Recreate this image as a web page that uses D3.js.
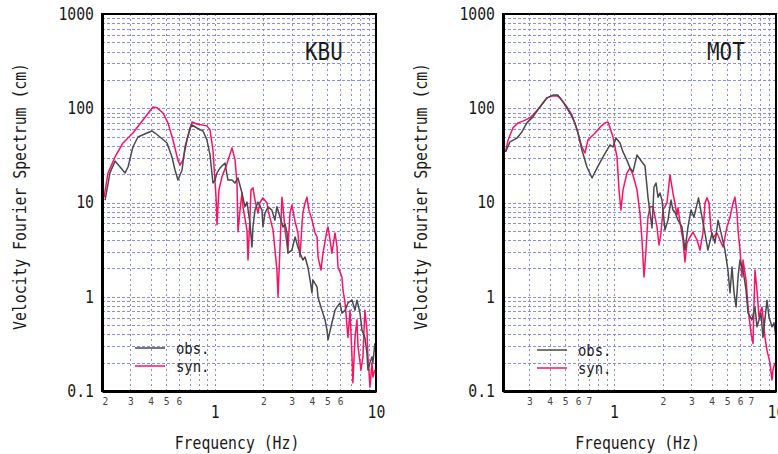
<!DOCTYPE html>
<html>
<head>
<meta charset="utf-8">
<script src="https://cdn.jsdelivr.net/npm/d3@7"></script>
<style>
  body { margin: 0; background: #fff; }
  text { font-family: "DejaVu Sans Mono", monospace; fill: #1a1a1a; }
</style>
</head>
<body>
<svg id="chart" width="778" height="454"></svg>
<script>
// velocity Fourier spectra: [frequency Hz, amplitude cm]
var kbuObs = [
  [0.209,10.6],[0.224,20.6],[0.241,27.5],[0.259,23.8],[0.278,20.6],[0.290,23.8],[0.311,38.8],[0.334,49.5],
  [0.380,54.6],[0.408,57.4],[0.426,54.6],[0.458,49.5],[0.506,42.8],[0.543,30.4],[0.567,22.1],[0.592,17.3],
  [0.627,22.1],[0.654,38.8],[0.703,61.7],[0.723,66.4],[0.776,61.7],[0.846,57.4],[0.895,46],[0.935,32],
  [0.975,16.1],[1.004,17.3],[1.033,20.6],[1.078,23.2],[1.158,26.2],[1.208,17.3],[1.280,17.3],[1.336,16.1],
  [1.394,18.2],[1.476,12.6],[1.541,9.0],[1.585,10.1],[1.654,6.05],[1.702,3.37],[1.726,5.5],[1.777,8.3],
  [1.854,10.1],[1.963,8.3],[1.991,5.5],[2.05,7.7],[2.14,9.0],[2.26,8.3],[2.36,6.5],[2.43,9.0],[2.54,7.0],
  [2.65,5.5],[2.73,5.9],[2.81,4.74],[2.84,2.91],[3.01,3.13],[3.15,4.3],[3.28,3.37],[3.38,2.91],[3.52,2.45],
  [3.63,2.64],[3.78,2.07],[3.90,1.51],[4.01,1.10],[4.06,1.51],[4.31,1.27],[4.37,0.99],[4.62,0.72],[4.83,0.57],
  [4.97,0.44],[5.04,0.35],[5.33,0.53],[5.57,0.72],[5.73,0.78],[5.98,0.86],[6.15,0.67],[6.43,0.72],[6.70,0.86],
  [7.10,0.92],[7.41,0.72],[7.62,0.92],[7.96,0.67],[8.19,0.44],[8.53,0.37],[8.79,0.25],[8.91,0.167],[9.18,0.20],
  [9.44,0.23],[9.57,0.20],[9.84,0.32]
];
var kbuSyn = [
  [0.206,11.4],[0.218,20.6],[0.241,30.4],[0.270,42.8],[0.311,54.6],[0.359,75],[0.414,103],[0.439,101],
  [0.478,89],[0.513,70],[0.551,46],[0.592,28],[0.609,25],[0.635,28],[0.673,46],[0.723,71.5],[0.776,68],
  [0.895,65],[0.935,59],[0.975,36],[1.019,11.4],[1.033,5.8],[1.062,13.6],[1.109,18.7],[1.192,26],[1.280,38],
  [1.336,28.5],[1.374,16],[1.394,4.9],[1.435,8.3],[1.476,12.6],[1.497,9],[1.585,5.1],[1.608,2.45],[1.654,7],
  [1.678,13.6],[1.726,14.3],[1.777,10.6],[1.854,7.7],[1.908,10],[1.991,11.2],[2.11,9.9],[2.14,8.3],[2.30,5.1],
  [2.43,1.92],[2.47,1.0],[2.54,3.37],[2.61,11.4],[2.65,9],[2.73,5.1],[2.84,3.1],[2.93,7.7],[3.01,9.4],
  [3.15,6.3],[3.28,4.75],[3.38,2.65],[3.48,6.0],[3.52,7.7],[3.63,9.9],[3.73,11.4],[3.84,8.3],[4.01,6.5],
  [4.19,4.75],[4.31,4.3],[4.37,2.65],[4.56,1.92],[4.69,2.9],[4.97,5.1],[5.04,5.5],[5.19,4.0],[5.33,2.9],
  [5.57,4.75],[5.73,3.4],[5.81,2.07],[6.15,1.62],[6.24,1.18],[6.43,0.86],[6.61,0.48],[6.70,0.37],[6.90,0.72],
  [7.10,0.23],[7.19,0.122],[7.41,0.37],[7.62,0.57],[7.73,0.30],[8.07,0.167],[8.30,0.23],[8.53,0.72],[8.79,0.44],
  [8.91,0.23],[9.18,0.11],[9.44,0.20],[9.57,0.141],[9.84,0.167]
];
var motObs = [
  [0.214,34.4],[0.228,43.9],[0.252,48.3],[0.270,56],[0.290,70],[0.316,81],[0.349,103],[0.386,129],[0.420,138],
  [0.451,138],[0.485,116],[0.535,89],[0.574,70],[0.600,54.6],[0.634,36],[0.681,23.8],[0.732,18.2],[0.785,23.2],
  [0.843,29],[0.905,36],[0.945,40.8],[0.986,38.8],[1.029,48.3],[1.089,42.8],[1.137,34.4],[1.203,28],[1.255,23.2],
  [1.310,21.1],[1.387,31.9],[1.489,26.9],[1.553,24.5],[1.621,11.4],[1.717,5.36],[1.766,14.6],[1.817,16.1],
  [1.870,11.4],[1.922,12.6],[1.978,10.6],[2.064,5.1],[2.154,6.5],[2.248,10.6],[2.313,8.3],[2.380,7.9],[2.484,6.5],
  [2.628,5.5],[2.742,3.13],[2.863,5.5],[2.987,8.3],[3.117,7.0],[3.324,11.2],[3.493,7.0],[3.645,4.74],[3.80,3.13],
  [4.027,4.74],[4.201,3.72],[4.39,6.5],[4.642,4.30],[4.843,3.13],[5.05,1.92],[5.199,1.10],[5.350,2.07],[5.51,1.10],
  [5.67,0.78],[5.83,1.62],[5.993,2.45],[6.26,1.92],[6.53,1.18],[6.72,0.67],[7.108,0.57],[7.416,0.78],[7.631,0.48],
  [8.08,0.67],[8.31,0.37],[8.796,0.92],[9.05,0.61],[9.443,0.48],[9.72,0.53],[10.0,0.37]
];
var motSyn = [
  [0.214,34.4],[0.222,46],[0.238,62],[0.256,70],[0.274,73],[0.303,79],[0.316,85],[0.349,103],[0.386,129],
  [0.414,135],[0.445,135],[0.464,129],[0.513,103],[0.550,85],[0.591,59],[0.634,38.8],[0.662,33.5],[0.691,46],
  [0.764,54.6],[0.820,63],[0.880,70],[0.918,71.5],[0.945,62],[0.986,49.5],[1.044,30.4],[1.074,13.6],[1.104,8.3],
  [1.137,13.6],[1.203,20.6],[1.255,23.2],[1.310,19.6],[1.387,13.6],[1.447,7.7],[1.489,4.0],[1.532,1.62],
  [1.576,3.13],[1.621,7.0],[1.668,9.0],[1.741,9.0],[1.843,5.5],[1.896,3.54],[1.950,4.74],[2.006,8.3],[2.124,9.9],
  [2.216,19.6],[2.313,12.6],[2.449,7.4],[2.484,8.75],[2.554,6.2],[2.665,4.0],[2.742,2.34],[2.822,3.72],[2.944,4.30],
  [3.07,4.86],[3.254,4.0],[3.394,3.13],[3.54,4.74],[3.645,9.9],[3.751,11.2],[3.86,9.9],[3.97,5.1],[4.08,4.2],
  [4.323,4.74],[4.511,4.0],[4.71,3.37],[4.983,5.5],[5.199,7.0],[5.43,9.9],[5.582,11.4],[5.744,7.7],[5.83,5.1],
  [5.993,3.13],[6.167,1.62],[6.26,2.45],[6.53,1.51],[6.72,0.78],[7.01,0.41],[7.21,0.32],[7.416,1.92],[7.631,1.18],
  [7.85,0.61],[8.193,0.78],[8.548,0.37],[8.796,0.27],[9.177,0.20],[9.443,0.131],[9.58,0.167],[9.852,0.20]
];

var yTicks = [0.1, 1, 10, 100, 1000];
var xMajorLabels = [1, 10];
var kbuMinorLabels = [0.2, 0.3, 0.4, 0.5, 0.6, 2, 3, 4, 5, 6];
var motMinorLabels = [0.3, 0.4, 0.5, 0.6, 0.7, 2, 3, 4, 5, 6, 7];
var legendNames = ["obs.", "syn."];

var obsColor = "#4a4a4a", synColor = "#ff1060", gridColor = "#8a8aff";
var plotTop = 14, plotBottom = 391, sx = 0.87;

var svg = d3.select("#chart");

function scaledText(g, x, y, str, size, anchor, rot) {
    var t = "translate(" + x + "," + y + ")" + (rot ? " rotate(" + rot + ")" : "") + " scale(" + sx + ",1)";
    return g.append("text")
        .attr("transform", t)
        .attr("text-anchor", anchor || "start")
        .style("font-size", size + "px")
        .text(str);
}

function drawPanel(p) {
    var x = d3.scaleLog().domain([p.fmin, 10]).range([p.x0, p.x1]);
    var y = d3.scaleLog().domain([0.1, 1000]).range([plotBottom, plotTop]);
    var g = svg.append("g");

    // grid
    var xGrid = [], yGrid = [];
    [0.1, 1].forEach(function (k) { d3.range(1, 10).forEach(function (m) { xGrid.push(k * m); }); });
    xGrid = xGrid.filter(function (d) { return d > p.fmin * 1.01 && d < 10; });
    [0.1, 1, 10, 100].forEach(function (k) { d3.range(1, 10).forEach(function (m) { yGrid.push(k * m); }); });
    yGrid = yGrid.filter(function (d) { return d > 0.1 && d < 1000; });

    g.append("g")
        .attr("transform", "translate(0," + plotBottom + ")")
        .call(d3.axisBottom(x).tickValues(xGrid).tickSize(-(plotBottom - plotTop)).tickFormat(""))
        .call(function (a) { a.select(".domain").remove(); })
        .selectAll("line")
        .attr("stroke", gridColor).attr("stroke-dasharray", "2,3").attr("stroke-width", 1)
        .attr("shape-rendering", "crispEdges");
    g.append("g")
        .attr("transform", "translate(" + p.x0 + ",0)")
        .call(d3.axisLeft(y).tickValues(yGrid).tickSize(-(p.x1 - p.x0)).tickFormat(""))
        .call(function (a) { a.select(".domain").remove(); })
        .selectAll("line")
        .attr("stroke", gridColor).attr("stroke-dasharray", "3,2").attr("stroke-width", 1)
        .attr("shape-rendering", "crispEdges");

    // curves
    var clipId = "clip" + p.name;
    g.append("clipPath").attr("id", clipId)
        .append("rect").attr("x", p.x0).attr("y", plotTop).attr("width", p.x1 - p.x0).attr("height", plotBottom - plotTop);
    var line = d3.line()
        .x(function (d) { return x(d[0]); })
        .y(function (d) { return y(d[1]); });
    [[p.syn, synColor], [p.obs, obsColor]].forEach(function (s) {
        g.append("path")
            .datum(s[0])
            .attr("clip-path", "url(#" + clipId + ")")
            .attr("fill", "none")
            .attr("stroke", s[1])
            .attr("stroke-width", 1.5)
            .attr("stroke-linejoin", "round")
            .attr("d", line);
    });

    // frame
    g.append("rect")
        .attr("x", p.x0).attr("y", plotTop).attr("width", p.x1 - p.x0).attr("height", plotBottom - plotTop)
        .attr("fill", "none").attr("stroke", "#000").attr("stroke-width", 2);

    // y axis
    var ya = g.append("g")
        .attr("transform", "translate(" + p.x0 + ",0)")
        .call(d3.axisLeft(y).tickValues(yTicks).tickSize(0).tickSizeOuter(0)
            .tickFormat(function (d) { return d < 1 ? "0.1" : d3.format("d")(d); }));
    ya.select(".domain").attr("stroke", "#000").attr("stroke-width", 3);
    ya.selectAll("text")
        .attr("transform", "scale(" + sx + ",1)")
        .attr("x", -8 / sx)
        .style("font-size", "17px");

    // x axis
    var xa = g.append("g")
        .attr("transform", "translate(0," + plotBottom + ")")
        .call(d3.axisBottom(x).tickValues(p.minor).tickSize(0).tickSizeOuter(0).tickPadding(6)
            .tickFormat(function (d) { return d < 1 ? Math.round(d * 10) : d; }));
    xa.select(".domain").attr("stroke", "#000").attr("stroke-width", 3);
    xa.selectAll("text")
        .attr("transform", "scale(" + sx + ",1)")
        .style("font-size", "11px")
        .style("fill", "#444")
        .filter(function (d) { return d === p.fmin; })
        .attr("text-anchor", "start");
    g.append("g")
        .attr("transform", "translate(0," + plotBottom + ")")
        .call(d3.axisBottom(x).tickValues(xMajorLabels).tickSize(0).tickPadding(15).tickFormat(d3.format("d")))
        .call(function (a) { a.select(".domain").remove(); })
        .selectAll("text")
        .attr("transform", "scale(" + sx + ",1)")
        .style("font-size", "17px");

    // labels
    scaledText(g, (p.x0 + p.x1) / 2 - 2, 449, "Frequency (Hz)", 17, "middle");
    scaledText(g, p.x0 - 76, (plotTop + plotBottom) / 2 - 6, "Velocity Fourier Spectrum (cm)", 17, "middle", -90);
    scaledText(g, p.titleX, 60, p.name, 24, "start");

    // legend
    [obsColor, synColor].forEach(function (c, i) {
        var ly = p.legY + i * 18;
        g.append("line")
            .attr("x1", p.legX).attr("x2", p.legX + 30)
            .attr("y1", ly).attr("y2", ly)
            .attr("stroke", c).attr("stroke-width", 1.5);
        scaledText(g, p.legX + 41, ly + 6, legendNames[i], 16, "start");
    });
}

drawPanel({ name: "KBU", fmin: 0.2, x0: 102, x1: 376, obs: kbuObs, syn: kbuSyn,
            minor: kbuMinorLabels, titleX: 305, legX: 135, legY: 348 });
drawPanel({ name: "MOT", fmin: 0.2065, x0: 503, x1: 776, obs: motObs, syn: motSyn,
            minor: motMinorLabels, titleX: 707, legX: 537, legY: 350 });
</script>
</body>
</html>
